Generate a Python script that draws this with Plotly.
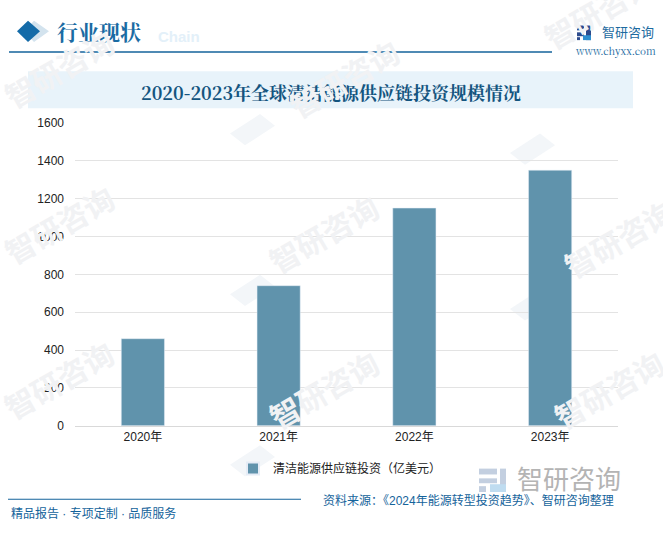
import plotly.graph_objects as go

W, H = 663, 536
categories = ["2020年", "2021年", "2022年", "2023年"]
series_name = "清洁能源供应链投资（亿美元）"
series_values = [460, 740, 1150, 1350]
y_ticks = [0, 200, 400, 600, 800, 1000, 1200, 1400, 1600]
title_text = "2020-2023年全球清洁能源供应链投资规模情况"
source_text = "资料来源：《2024年能源转型投资趋势》、智研咨询整理"
footer_text = "精品报告 · 专项定制 · 品质服务"

SANS = "Liberation Sans, Noto Sans CJK SC, sans-serif"
SERIF = "Noto Serif CJK SC, Noto Sans CJK SC, serif"
BLUE = "#14639b"
BAR = "#6093ac"


def px(x):
    return x / W


def py(y):
    return 1 - y / H


def rect(x0, y0, x1, y1, color, layer="above"):
    return dict(type="rect", xref="paper", yref="paper", x0=px(x0), x1=px(x1),
                y0=py(y0), y1=py(y1), fillcolor=color, line_width=0, layer=layer)


def poly(points, color, layer="above"):
    d = "M " + " L ".join(f"{px(x):.5f},{py(y):.5f}" for x, y in points) + " Z"
    return dict(type="path", xref="paper", yref="paper", path=d, fillcolor=color,
                line_width=0, layer=layer)


def text(x, y, s, size, color, anchor="left", bold=False, angle=0, family=SANS):
    if bold:
        s = f"<b>{s}</b>"
    return dict(xref="paper", yref="paper", x=px(x), y=py(y), text=s, showarrow=False,
                xanchor=anchor, yanchor="middle", textangle=angle,
                font=dict(size=size, color=color, family=family))


fig = go.Figure(go.Bar(x=categories, y=series_values, name=series_name,
                       marker_color=BAR, width=0.318))

shapes = [
    rect(28, 66, 633, 104, "#e8f3fa", "below"),
    rect(9, 45.5, 552, 47, BLUE),
    rect(8, 505, 301, 506, BLUE),
    poly([(34, 14), (49, 25), (34, 36), (24, 25)], "#d3e3ee"),
    poly([(28, 14), (40, 25), (28, 36), (17, 25)], "#146ba8"),
    # logo
    rect(577, 19, 584, 24, "#2c4a8c"), rect(586, 19, 591, 34, "#2c4a8c"),
    rect(577, 26, 584, 30, "#2c4a8c"), rect(577, 31, 580, 34, "#2c4a8c"),
    rect(583, 29, 591, 34, "#2f8fd0"),
    # bottom logo
    rect(479, 474, 497, 480, "#c3cfe0"), rect(500, 474, 506, 498, "#c3cfe0"),
    rect(479, 484, 497, 489, "#c3cfe0"), rect(479, 492, 486, 498, "#c3cfe0"),
    rect(490, 490, 506, 498, "#bfdcf0"),
]

annotations = [
    text(55, 25, "行业现状", 21, "#1a6ba3", bold=True, family=SERIF),
    text(156, 30, "Chain", 15, "#e3f0f9", bold=True),
    text(331, 87, title_text, 18, "#14557f", "center", bold=True, family=SERIF),
    text(600, 26, "智研咨询", 13, "#1c6aa0"),
    text(573, 45, "www.chyxx.com", 10, "#1c6aa0", family=SERIF),
    text(515, 486, "智研咨询", 26, "#b4b4b4"),
    text(321, 507, source_text, 12, "#14639b"),
    text(9, 520, footer_text, 12, "#14639b"),
]

# faint watermarks
for x, y in [(60, 65), (345, 75), (600, 5), (60, 225), (325, 235), (620, 240),
             (60, 385), (325, 395), (610, 395)]:
    annotations.append(text(x, y, "智研咨询", 30, "#f1f2f4", "center", True, -30))
for x, y in [(250, 130), (530, 150), (250, 295), (530, 310), (250, 470)]:
    shapes.append(poly([(x - 20, y), (x + 10, y - 20), (x + 25, y - 8), (x - 5, y + 12)],
                       "#f3f6f9", "below"))

fig.update_layout(
    width=W, height=H, margin=dict(l=0, r=0, t=0, b=0),
    paper_bgcolor="white", plot_bgcolor="rgba(0,0,0,0)",
    font=dict(family=SANS, size=12, color="#222222"),
    showlegend=True, bargap=0.68,
    legend=dict(orientation="h", x=px(340), xanchor="center", y=py(474), yanchor="middle",
                bgcolor="rgba(0,0,0,0)", font=dict(size=12, color="#222222"),
                itemwidth=30, itemsizing="constant"),
    xaxis=dict(domain=[px(75), px(618)], showgrid=False, showline=True, linecolor="#d9d9d9",
               ticks="", tickfont=dict(size=12, color="#222222")),
    yaxis=dict(domain=[py(430), py(119)], range=[0, 1600], tickvals=y_ticks,
               gridcolor="#e3e3e3", gridwidth=1, zeroline=False, showline=False, ticks="",
               ticklabelstandoff=10, tickfont=dict(size=12, color="#222222")),
    shapes=shapes, annotations=annotations,
)

fig.write_html("out.html", config=dict(displayModeBar=False),
               post_script="document.body.style.margin='0';")
